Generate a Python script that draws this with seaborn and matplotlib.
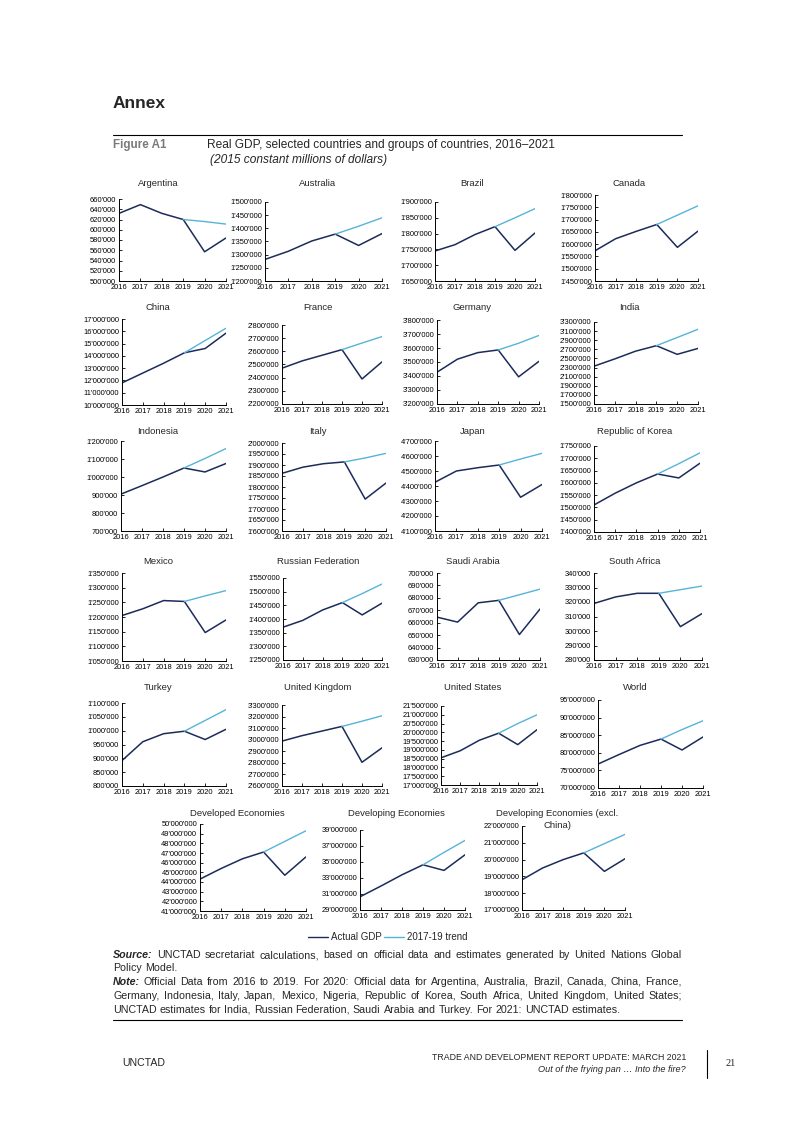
import matplotlib
matplotlib.use("Agg")
import matplotlib.pyplot as plt
from matplotlib.lines import Line2D
from matplotlib.ticker import FuncFormatter
import numpy as np
import seaborn as sns

# Real GDP, 2015 constant millions of dollars
YEARS = [2016, 2017, 2018, 2019, 2020, 2021]
TREND_YEARS = [2019, 2020, 2021]

argentina = [632000, 649000, 632000, 620000, 557000, 584000]
argentina_trend = [620000, 616000, 611000]
australia = [1282000, 1313000, 1352000, 1378000, 1335000, 1380000]
australia_trend = [1378000, 1408000, 1440000]
brazil = [1745000, 1765000, 1797000, 1822000, 1747000, 1802000]
brazil_trend = [1822000, 1850000, 1879000]
canada = [1573000, 1622000, 1652000, 1680000, 1587000, 1653000]
canada_trend = [1680000, 1718000, 1756000]
china = [11800000, 12600000, 13400000, 14250000, 14600000, 15850000]
china_trend = [14250000, 15250000, 16250000]
france = [2472000, 2527000, 2570000, 2613000, 2390000, 2520000]
france_trend = [2613000, 2663000, 2712000]
germany = [3427000, 3520000, 3567000, 3586000, 3394000, 3505000]
germany_trend = [3586000, 3634000, 3690000]
india = [2330000, 2490000, 2660000, 2780000, 2590000, 2720000]
india_trend = [2780000, 2960000, 3140000]
indonesia = [905000, 952000, 1000000, 1050000, 1028000, 1075000]
indonesia_trend = [1050000, 1103000, 1158000]
italy = [1862000, 1890000, 1906000, 1914000, 1745000, 1818000]
italy_trend = [1914000, 1932000, 1953000]
japan = [4425000, 4500000, 4522000, 4540000, 4325000, 4410000]
japan_trend = [4540000, 4580000, 4618000]
korea = [1510000, 1558000, 1600000, 1636000, 1620000, 1680000]
korea_trend = [1636000, 1678000, 1722000]
mexico = [1205000, 1228000, 1256000, 1253000, 1147000, 1190000]
mexico_trend = [1253000, 1272000, 1290000]
russia = [1370000, 1395000, 1433000, 1460000, 1415000, 1458000]
russia_trend = [1460000, 1493000, 1528000]
saudi = [664500, 660500, 676000, 678000, 650500, 671000]
saudi_trend = [678000, 682500, 687000]
south_africa = [319000, 323500, 326000, 326000, 303000, 312000]
south_africa_trend = [326000, 328500, 331000]
turkey = [892000, 960000, 989000, 998000, 968000, 1005000]
turkey_trend = [998000, 1037000, 1076000]
uk = [2988000, 3035000, 3075000, 3115000, 2805000, 2930000]
uk_trend = [3115000, 3160000, 3207000]
usa = [18550000, 18950000, 19550000, 19950000, 19300000, 20150000]
usa_trend = [19950000, 20500000, 21000000]
world = [76800000, 79500000, 82100000, 83900000, 80800000, 84500000]
world_trend = [83900000, 86600000, 89100000]
developed = [44300000, 45400000, 46400000, 47100000, 44700000, 46600000]
developed_trend = [47100000, 48200000, 49300000]
developing = [30650000, 32000000, 33400000, 34650000, 33950000, 35900000]
developing_trend = [34650000, 36200000, 37700000]
developing_ex_china = [18800000, 19500000, 20000000, 20400000, 19300000, 20050000]
developing_ex_china_trend = [20400000, 20950000, 21500000]

TITLES = ["Argentina", "Australia", "Brazil", "Canada",
          "China", "France", "Germany", "India",
          "Indonesia", "Italy", "Japan", "Republic of Korea",
          "Mexico", "Russian Federation", "Saudi Arabia", "South Africa",
          "Turkey", "United Kingdom", "United States", "World",
          "Developed Economies", "Developing Economies",
          "Developing Economies (excl."]
ACTUAL = [argentina, australia, brazil, canada, china, france, germany, india,
          indonesia, italy, japan, korea, mexico, russia, saudi, south_africa,
          turkey, uk, usa, world, developed, developing, developing_ex_china]
TREND = [argentina_trend, australia_trend, brazil_trend, canada_trend,
         china_trend, france_trend, germany_trend, india_trend,
         indonesia_trend, italy_trend, japan_trend, korea_trend,
         mexico_trend, russia_trend, saudi_trend, south_africa_trend,
         turkey_trend, uk_trend, usa_trend, world_trend,
         developed_trend, developing_trend, developing_ex_china_trend]
# y axis: (min, max, step)
Y_AXES = [(500000, 660000, 20000), (1200000, 1500000, 50000),
          (1650000, 1900000, 50000), (1450000, 1800000, 50000),
          (10000000, 17000000, 1000000), (2200000, 2800000, 100000),
          (3200000, 3800000, 100000), (1500000, 3300000, 200000),
          (700000, 1200000, 100000), (1600000, 2000000, 50000),
          (4100000, 4700000, 100000), (1400000, 1750000, 50000),
          (1050000, 1350000, 50000), (1250000, 1550000, 50000),
          (630000, 700000, 10000), (280000, 340000, 10000),
          (800000, 1100000, 50000), (2600000, 3300000, 100000),
          (17000000, 21500000, 500000), (70000000, 95000000, 5000000),
          (41000000, 50000000, 1000000), (29000000, 39000000, 2000000),
          (17000000, 22000000, 1000000)]

# page layout in pixels: axes box (left, top, right, bottom) and title centre (x, y)
BOXES = [(119, 199, 226, 281), (265, 202, 382, 281), (435, 202, 535, 281), (595, 195, 698, 281),
         (122, 319, 226, 405), (282, 325, 382, 404), (437, 320, 539, 404), (594, 322, 698, 404),
         (121, 441, 226, 531), (282, 443, 386, 531), (435, 441, 542, 531), (594, 446, 700, 532),
         (122, 573, 226, 661), (283, 578, 382, 660), (437, 573, 540, 660), (594, 573, 702, 660),
         (122, 703, 226, 786), (282, 705, 382, 786), (441, 706, 537, 785), (598, 700, 703, 788),
         (200, 824, 306, 911), (360, 830, 465, 910), (522, 826, 625, 910)]
TITLE_POS = [(158, 183), (318, 183), (472, 183), (629, 183),
             (158, 307), (318, 307), (472, 307), (629, 307),
             (158, 432), (318, 432), (473, 432), (635, 432),
             (158, 561), (318, 561), (473, 561), (635, 561),
             (158, 688), (318, 688), (473, 688), (635, 688),
             (237, 814), (396, 814), (557, 814)]

NAVY = "#1c2b5a"
LIGHT = "#56b4d8"
W, H = 793, 1122

sns.set_style("ticks")
plt.rcParams["font.family"] = ["Liberation Sans", "DejaVu Sans"]

fig = plt.figure(figsize=(W / 100, H / 100), dpi=100)

fmt = FuncFormatter(lambda v, p: f"{v:,.0f}".replace(",", "'"))

for i, title in enumerate(TITLES):
    l, t, r, b = BOXES[i]
    ax = fig.add_axes([l / W, 1 - b / H, (r - l) / W, (b - t) / H])
    sns.lineplot(x=YEARS, y=ACTUAL[i], ax=ax, color=NAVY, linewidth=1.1)
    sns.lineplot(x=TREND_YEARS, y=TREND[i], ax=ax, color=LIGHT, linewidth=1.0)
    lo, hi, step = Y_AXES[i]
    ax.set_xlim(2016, 2021)
    ax.set_ylim(lo, hi)
    ax.set_xticks(YEARS)
    ax.set_xticklabels([str(y) for y in YEARS])
    ax.set_yticks(np.arange(lo, hi + step / 2, step))
    ax.yaxis.set_major_formatter(fmt)
    ax.tick_params(direction="in", length=2.5, width=0.6, labelsize=5.4, pad=2, colors="black")
    ax.set_xlabel("")
    ax.set_ylabel("")
    for s in ["left", "bottom"]:
        ax.spines[s].set_linewidth(0.7)
        ax.spines[s].set_color("black")
    sns.despine(ax=ax)
    tx, ty = TITLE_POS[i]
    fig.text(tx / W, 1 - ty / H, title, ha="center", va="center", fontsize=6.8)

# second title line of the last panel
fig.text(557 / W, 1 - 825 / H, "China)", ha="center", va="center", fontsize=6.8)

# legend
handles = [Line2D([], [], color=NAVY, linewidth=1.0), Line2D([], [], color=LIGHT, linewidth=1.0)]
fig.legend(handles, ["Actual GDP", "2017-19 trend"], loc="center", bbox_to_anchor=(388 / W, 1 - 937 / H),
           ncol=2, frameon=False, fontsize=7, handlelength=2.0, columnspacing=0.25, handletextpad=0.35)

# header
fig.text(113 / W, 1 - 104 / H, "Annex", fontsize=12.5, fontweight="bold", va="center")
fig.add_artist(Line2D([113 / W, 682 / W], [1 - 135 / H, 1 - 135 / H], color="black", linewidth=0.8))
fig.text(113 / W, 1 - 145 / H, "Figure A1", fontsize=8.4, fontweight="bold", color="#7a7a7a", va="center")
fig.text(207 / W, 1 - 145 / H, "Real GDP, selected countries and groups of countries, 2016\u20132021",
         fontsize=8.6, va="center")
fig.text(210 / W, 1 - 160 / H, "(2015 constant millions of dollars)", fontsize=8.6, style="italic", va="center")

# notes, justified word by word
renderer = fig.canvas.get_renderer()


def note_line(words, y, justify, size=7.7, x0=113, x1=682):
    texts = []
    for j, w in enumerate(words):
        bold_it = w in ("Source:", "Note:") and j == 0
        t = fig.text(0, 1 - y / H, w, fontsize=size, va="center",
                     fontweight="bold" if bold_it else "normal",
                     style="italic" if bold_it else "normal")
        texts.append(t)
    widths = [t.get_window_extent(renderer).width for t in texts]
    space = size * 100 / 72 * 0.278
    if justify and len(words) > 1:
        space = (x1 - x0 - sum(widths)) / (len(words) - 1)
    x = x0
    for t, wd in zip(texts, widths):
        t.set_x(x / W)
        x += wd + space


note_line("Source: UNCTAD secretariat calculations, based on official data and estimates generated by United Nations Global".split(), 955, True)
note_line("Policy Model.".split(), 968, False)
note_line("Note: Official Data from 2016 to 2019. For 2020: Official data for Argentina, Australia, Brazil, Canada, China, France,".split(), 982, True)
note_line("Germany, Indonesia, Italy, Japan, Mexico, Nigeria, Republic of Korea, South Africa, United Kingdom, United States;".split(), 996, True)
note_line("UNCTAD estimates for India, Russian Federation, Saudi Arabia and Turkey. For 2021: UNCTAD estimates.".split(), 1010, False)
fig.add_artist(Line2D([113 / W, 682 / W], [1 - 1020 / H, 1 - 1020 / H], color="black", linewidth=0.8))

# footer
fig.text(122 / W, 1 - 1063 / H, "UNCTAD", fontsize=7.6, va="center")
fig.text(686 / W, 1 - 1057 / H, "TRADE AND DEVELOPMENT REPORT UPDATE: MARCH 2021", fontsize=6.3, ha="right", va="center")
fig.text(686 / W, 1 - 1069 / H, "Out of the frying pan \u2026 Into the fire?", fontsize=6.6, style="italic",
         ha="right", va="center")
fig.add_artist(Line2D([707 / W, 707 / W], [1 - 1050 / H, 1 - 1078 / H], color="black", linewidth=0.8))
fig.text(731 / W, 1 - 1064 / H, "21", fontsize=7.5, family="Liberation Serif", ha="center", va="center")

fig.savefig("out.png", dpi=100)
plt.close(fig)
